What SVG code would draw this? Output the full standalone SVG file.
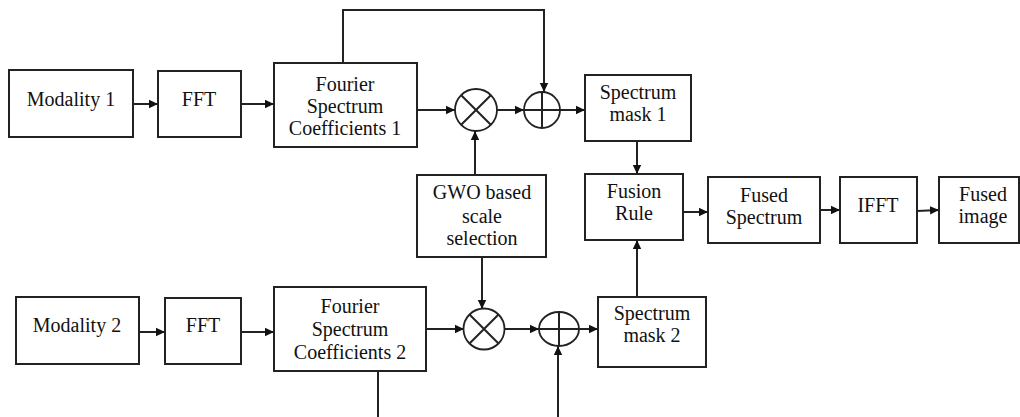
<svg xmlns="http://www.w3.org/2000/svg" width="1020" height="417" viewBox="0 0 1020 417">
<style>
.box{fill:#fff;stroke:#222;stroke-width:2}
.op{fill:#fff;stroke:#222;stroke-width:1.8}
.ln{fill:none;stroke:#222;stroke-width:2}
.t{font-family:"Liberation Serif","Times New Roman",serif;font-size:20px;fill:#111;text-anchor:middle}
</style>
<defs>
<marker id="ah" markerWidth="10" markerHeight="10" refX="9" refY="5" orient="auto" markerUnits="userSpaceOnUse">
<path d="M0,0.8 L9,5 L0,9.2 Z" fill="#111"/>
</marker>
</defs>
<rect width="1020" height="417" fill="#fff"/>
<g id="connectors">
<line class="ln" x1="133" y1="104" x2="158" y2="104" marker-end="url(#ah)"/>
<line class="ln" x1="241" y1="104" x2="274" y2="104" marker-end="url(#ah)"/>
<polyline class="ln" points="343,63 343,10 544,10 544,92" marker-end="url(#ah)"/>
<line class="ln" x1="417" y1="110" x2="455" y2="110" marker-end="url(#ah)"/>
<line class="ln" x1="497" y1="110" x2="524" y2="110" marker-end="url(#ah)"/>
<line class="ln" x1="560" y1="110" x2="585" y2="110" marker-end="url(#ah)"/>
<line class="ln" x1="475" y1="175" x2="475" y2="131" marker-end="url(#ah)"/>
<line class="ln" x1="637" y1="141" x2="637" y2="174" marker-end="url(#ah)"/>
<line class="ln" x1="683" y1="212" x2="708" y2="212" marker-end="url(#ah)"/>
<line class="ln" x1="820" y1="210" x2="840" y2="210" marker-end="url(#ah)"/>
<line class="ln" x1="917" y1="211" x2="939" y2="210" marker-end="url(#ah)"/>
<line class="ln" x1="139" y1="332" x2="165" y2="332" marker-end="url(#ah)"/>
<line class="ln" x1="241" y1="332" x2="274" y2="332" marker-end="url(#ah)"/>
<line class="ln" x1="426" y1="329" x2="464" y2="329" marker-end="url(#ah)"/>
<line class="ln" x1="482" y1="257" x2="482" y2="309" marker-end="url(#ah)"/>
<line class="ln" x1="505" y1="329" x2="539" y2="329" marker-end="url(#ah)"/>
<line class="ln" x1="579" y1="329" x2="598" y2="329" marker-end="url(#ah)"/>
<line class="ln" x1="637" y1="297" x2="637" y2="240" marker-end="url(#ah)"/>
<line class="ln" x1="378" y1="371" x2="378" y2="417"/>
<line class="ln" x1="558" y1="417" x2="558" y2="346" marker-end="url(#ah)"/>
</g>
<g id="modality1"><rect class="box" x="9" y="70" width="124" height="67"/><text class="t" x="71" y="106">Modality 1</text></g>
<g id="fft1"><rect class="box" x="158" y="71" width="83" height="66"/><text class="t" x="199" y="106">FFT</text></g>
<g id="fsc1"><rect class="box" x="274" y="63" width="143" height="84"/><text class="t" x="345" y="91">Fourier</text><text class="t" x="345" y="113">Spectrum</text><text class="t" x="345" y="135">Coefficients 1</text></g>
<g id="mult1"><circle class="op" cx="476" cy="110" r="21"/><path class="ln" d="M461.2,95.2 L490.8,124.8 M490.8,95.2 L461.2,124.8" stroke-width="1.8"/></g>
<g id="add1"><circle class="op" cx="542" cy="110" r="18"/><path class="ln" d="M524,110 H560 M542,92 V128" stroke-width="1.8"/></g>
<g id="mask1"><rect class="box" x="585" y="75" width="106" height="66"/><text class="t" x="638" y="99">Spectrum</text><text class="t" x="638" y="121">mask 1</text></g>
<g id="gwo"><rect class="box" x="417" y="175" width="129" height="82"/><text class="t" x="482" y="199">GWO based</text><text class="t" x="482" y="223">scale</text><text class="t" x="482" y="245">selection</text></g>
<g id="fusion"><rect class="box" x="585" y="174" width="98" height="66"/><text class="t" x="634" y="198">Fusion</text><text class="t" x="634" y="220">Rule</text></g>
<g id="fusedspec"><rect class="box" x="708" y="177" width="112" height="66"/><text class="t" x="764" y="202">Fused</text><text class="t" x="764" y="224">Spectrum</text></g>
<g id="ifft"><rect class="box" x="840" y="177" width="77" height="66"/><text class="t" x="878" y="212">IFFT</text></g>
<g id="fusedimg"><rect class="box" x="939" y="177" width="80" height="66"/><text class="t" x="983" y="201">Fused</text><text class="t" x="983" y="223">image</text></g>
<g id="modality2"><rect class="box" x="16" y="297" width="123" height="67"/><text class="t" x="77" y="332">Modality 2</text></g>
<g id="fft2"><rect class="box" x="165" y="298" width="76" height="66"/><text class="t" x="203" y="332">FFT</text></g>
<g id="fsc2"><rect class="box" x="274" y="287" width="152" height="84"/><text class="t" x="350" y="313">Fourier</text><text class="t" x="350" y="336">Spectrum</text><text class="t" x="350" y="359">Coefficients 2</text></g>
<g id="mult2"><circle class="op" cx="484" cy="329" r="20.5"/><path class="ln" d="M469.5,314.5 L498.5,343.5 M498.5,314.5 L469.5,343.5" stroke-width="1.8"/></g>
<g id="add2"><ellipse class="op" cx="559" cy="329" rx="20" ry="17"/><path class="ln" d="M539,329 H579 M559,312 V346" stroke-width="1.8"/></g>
<g id="mask2"><rect class="box" x="598" y="297" width="108" height="70"/><text class="t" x="652" y="320">Spectrum</text><text class="t" x="652" y="342">mask 2</text></g>
</svg>
